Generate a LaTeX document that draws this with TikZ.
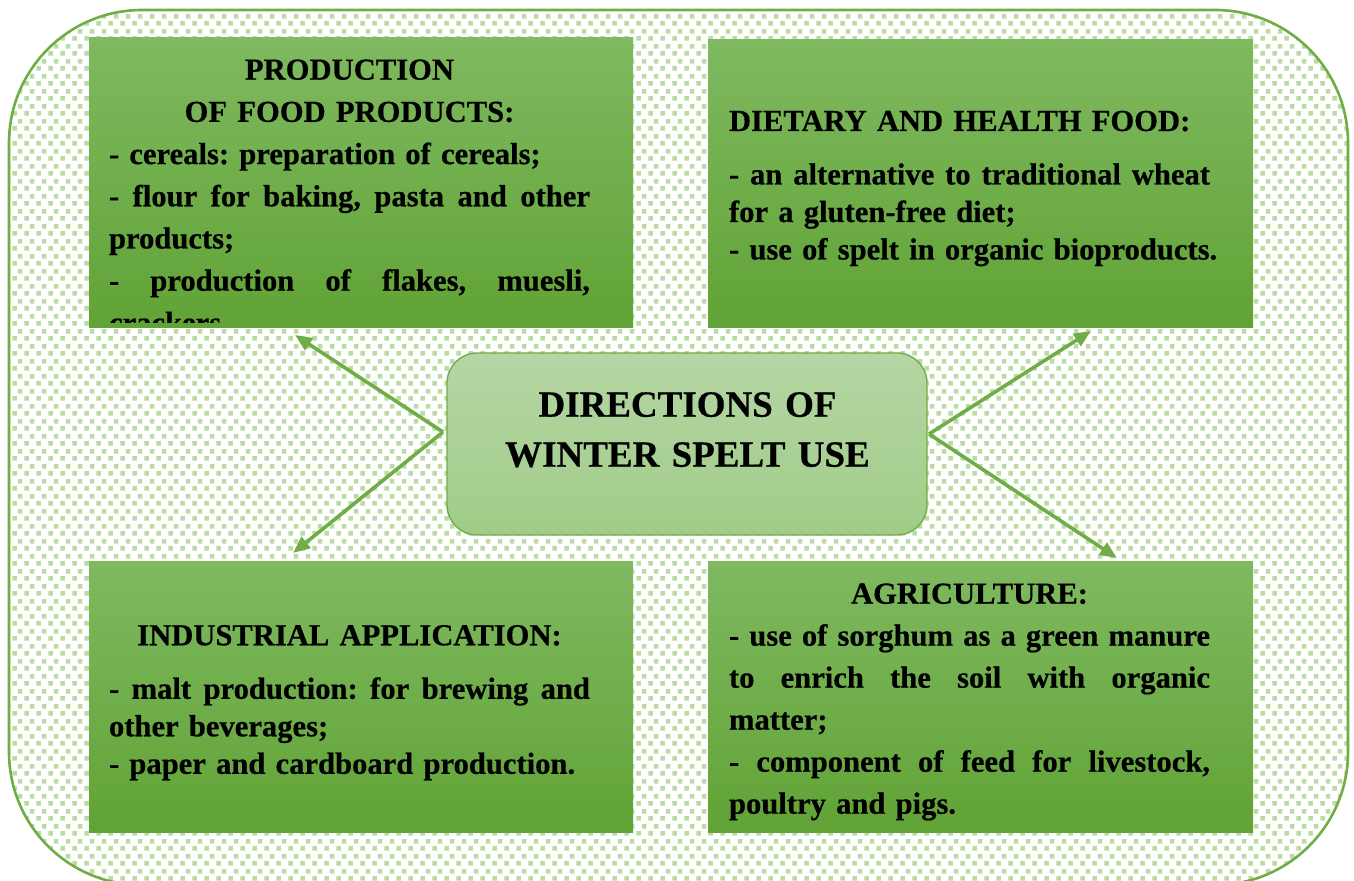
\documentclass[tikz,border=0pt]{standalone}
\usepackage{fontspec}
\setmainfont{Liberation Serif}[BoldFeatures={FakeBold=0.5}]
\usetikzlibrary{arrows.meta,patterns}
\definecolor{frame}{HTML}{70AD47}
\definecolor{dotc}{HTML}{B9DCA2}
\definecolor{gtop}{RGB}{127,185,96}
\definecolor{gbot}{RGB}{97,163,54}
\definecolor{ctop}{RGB}{181,214,164}
\definecolor{cbot}{RGB}{160,204,136}
\pgfdeclarepatternformonly{sqconfetti}{\pgfpointorigin}{\pgfqpoint{6pt}{7.5pt}}{\pgfqpoint{6pt}{7.5pt}}{%
  \pgfpathrectangle{\pgfqpoint{0.2pt}{0.2pt}}{\pgfqpoint{2.4pt}{2.4pt}}%
  \pgfpathrectangle{\pgfqpoint{3.2pt}{3.95pt}}{\pgfqpoint{2.4pt}{2.4pt}}%
  \pgfusepath{fill}}
\newcommand{\bodyfont}[1]{\bfseries\fontsize{15.3pt}{#1}\selectfont\frenchspacing
  \spaceskip=0.25em plus 0.1em minus 0.03em\relax\xspaceskip=\spaceskip}
\tikzset{
  gbox/.style={inner sep=0pt, outer sep=0pt, top color=gtop, bottom color=gbot, draw=none, anchor=north west},
  cbox/.style={rounded corners=15pt, draw=frame, line width=0.7pt, top color=ctop, bottom color=cbot,
    minimum width=240pt, minimum height=91pt, inner sep=0pt, outer sep=0pt},
  txt/.style={inner sep=0pt, outer sep=0pt, text width=240.5pt, align=left, anchor=base west},
  bigtxt/.style={txt, font=\bodyfont{21.1pt}},
  midtxt/.style={txt, font=\bodyfont{18.75pt}},
  conn/.style={draw=frame, line width=1.8pt, -{Triangle[length=8.5pt,width=7pt]}},
}
\newcommand{\jline}[1]{\leavevmode\hbox to\linewidth{\spaceskip=0.25em plus 1fil\relax\xspaceskip=\spaceskip #1}}
\newcommand{\cenline}[1]{\makebox[\linewidth][c]{#1}}
\newcommand{\pline}[1]{\mbox{#1}}
\begin{document}
\begin{tikzpicture}[x=0.5pt,y=-0.5pt]
\useasboundingbox (0,0) rectangle (1354,881);
% outer frame with confetti pattern
\fill[white, rounded corners=66.5pt] (9,10) rectangle (1348,885);
\fill[pattern=sqconfetti, pattern color=dotc, rounded corners=66.5pt] (9,10) rectangle (1348,885);
\draw[frame, line width=1.3pt, rounded corners=66.5pt] (9,10) rectangle (1348,885);

% boxes
\node[gbox, minimum width=272pt, minimum height=145pt] (tl) at (89,38) {};
\node[gbox, minimum width=272.5pt, minimum height=144pt] (tr) at (708,40) {};
\node[gbox, minimum width=272pt, minimum height=135pt] (bl) at (89,562) {};
\node[gbox, minimum width=272.5pt, minimum height=135pt] (br) at (708,562) {};

% box texts
\begin{scope}
\clip (89,38) rectangle (633,323);
\node[bigtxt] (tltext) at (109,79.7) {%
\cenline{PRODUCTION}\\
\cenline{OF FOOD PRODUCTS:}\\
\pline{- cereals: preparation of cereals;}\\
\jline{- flour for baking, pasta and other}\\
\pline{products;}\\
\jline{- production of flakes, muesli,}\\
\pline{crackers}};
\end{scope}

\node[midtxt] (trtext) at (729,131) {%
\pline{DIETARY AND HEALTH FOOD:}\\[8pt]
\jline{- an alternative to traditional wheat}\\
\pline{for a gluten-free diet;}\\
\pline{- use of spelt in organic bioproducts.}};

\node[midtxt] (bltext) at (109,645.3) {%
\cenline{INDUSTRIAL APPLICATION:}\\[8pt]
\jline{- malt production: for brewing and}\\
\pline{other beverages;}\\
\pline{- paper and cardboard production.}};

\node[txt, font=\bodyfont{21pt}] (brtext) at (729,603.7) {%
\cenline{AGRICULTURE:}\\
\jline{- use of sorghum as a green manure}\\
\jline{to enrich the soil with organic}\\
\pline{matter;}\\
\jline{- component of feed for livestock,}\\
\pline{poultry and pigs.}};

% centre
\node[cbox] (c) at (687,444) {};
\node[txt, text width=240pt, align=center, anchor=base, font=\bfseries\fontsize{18.5pt}{25pt}\selectfont] (ctext) at (687.5,416.7) {DIRECTIONS OF\\WINTER SPELT USE};

% connectors
\coordinate (cl) at (443,432);
\coordinate (cr) at (929,434);
\coordinate (a1) at (295,335);
\coordinate (a2) at (293,553);
\coordinate (a3) at (1091,331);
\coordinate (a4) at (1117,558);
\draw[conn] (cl) -- (a1);
\draw[conn] (cl) -- (a2);
\draw[conn] (cr) -- (a3);
\draw[conn] (cr) -- (a4);
\end{tikzpicture}
\end{document}
